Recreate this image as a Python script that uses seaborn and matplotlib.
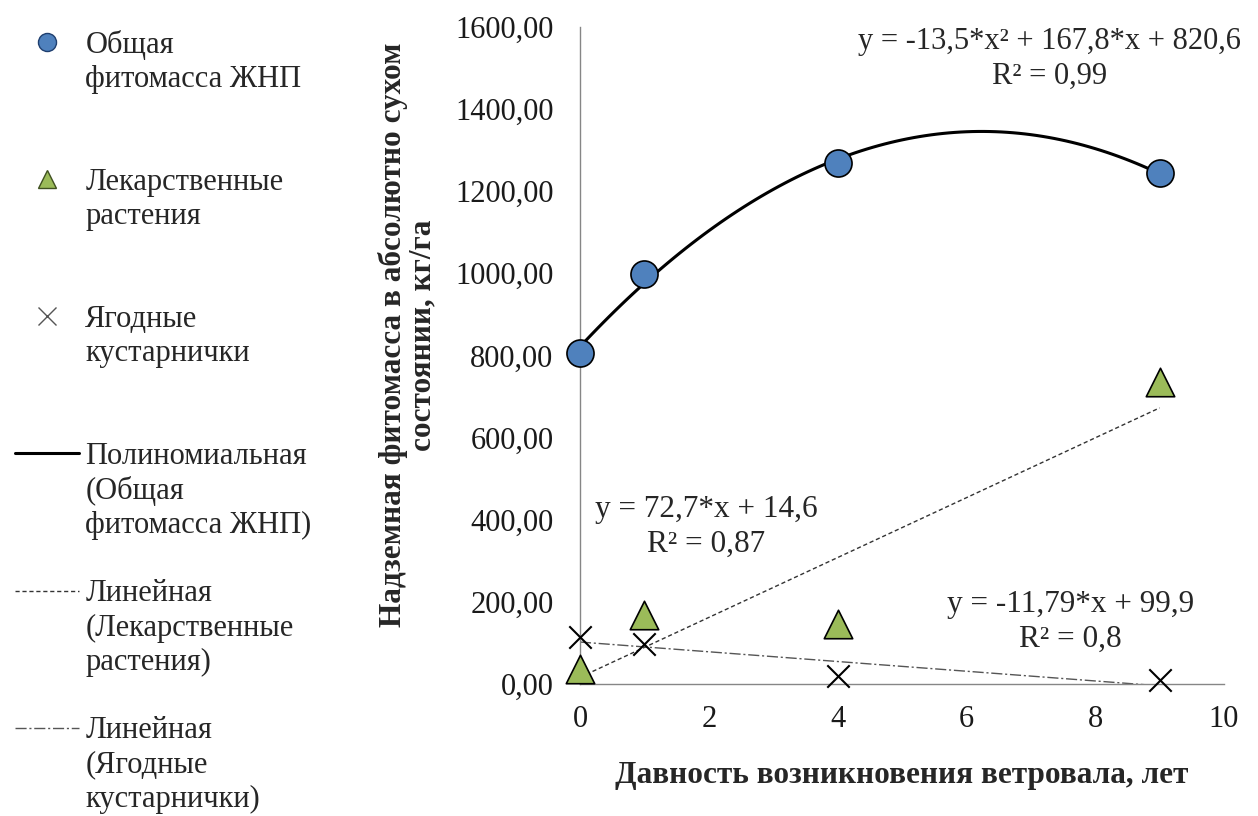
import matplotlib
matplotlib.use("Agg")
from matplotlib import pyplot as plt
from matplotlib.lines import Line2D
import seaborn as sns

# Data
years = [0, 1, 4, 9]
total_phytomass = [806, 998, 1269, 1244]
medicinal_plants = [35, 168, 146, 735]
berry_shrubs = [115, 97, 19, 10]

x_ticks = [0, 2, 4, 6, 8, 10]
y_ticks = [0, 200, 400, 600, 800, 1000, 1200, 1400, 1600]
y_tick_labels = ['0,00', '200,00', '400,00', '600,00', '800,00',
                 '1000,00', '1200,00', '1400,00', '1600,00']

eq_total = 'y = -13,5*x² + 167,8*x + 820,6\nR² = 0,99'
eq_medicinal = 'y = 72,7*x + 14,6\nR² = 0,87'
eq_berry = 'y = -11,79*x + 99,9\nR² = 0,8'

x_label = 'Давность возникновения ветровала, лет'
y_label = 'Надземная фитомасса в абсолютно сухом\nсостоянии, кг/га'

sns.set_theme(style="white")
plt.rcParams['font.family'] = ['Liberation Serif', 'DejaVu Serif']

BLUE = '#4F81BD'
GREEN = '#9BBB59'
FS = 22

fig = plt.figure(figsize=(12.58, 8.16), dpi=100)
ax = fig.add_axes([0.461, 0.162, 0.512, 0.805])

# Trend lines
sns.regplot(x=years, y=total_phytomass, order=2, ci=None, scatter=False,
            truncate=True, ax=ax, color='black', line_kws=dict(lw=2.2, zorder=2))
sns.regplot(x=years, y=medicinal_plants, order=1, ci=None, scatter=False,
            truncate=True, ax=ax, color='#333333',
            line_kws=dict(lw=1.0, linestyle=(0, (3, 2)), zorder=2))
sns.regplot(x=years, y=berry_shrubs, order=1, ci=None, scatter=False,
            truncate=True, ax=ax, color='#555555',
            line_kws=dict(lw=1.0, linestyle=(0, (8, 2, 1.5, 2)), zorder=2))

# Points
sns.scatterplot(x=years, y=total_phytomass, ax=ax, marker='o', s=380,
                color=BLUE, edgecolor='black', linewidth=1.2, zorder=4, clip_on=False)
sns.scatterplot(x=years, y=medicinal_plants, ax=ax, marker='^', s=420,
                color=GREEN, edgecolor='black', linewidth=1.2, zorder=4, clip_on=False)
sns.scatterplot(x=years, y=berry_shrubs, ax=ax, marker='x', s=260,
                color='black', linewidth=1.5, zorder=4, clip_on=False)

ax.set_xlim(0, 10)
ax.set_ylim(0, 1600)
ax.set_xticks(x_ticks)
ax.set_xticklabels([str(t) for t in x_ticks])
ax.set_yticks(y_ticks)
ax.set_yticklabels(y_tick_labels)
ax.tick_params(axis='both', which='major', labelsize=FS, colors='#868686',
               labelcolor='#1a1a1a', direction='out', length=7, width=1)
ax.tick_params(axis='y', pad=12)
ax.tick_params(axis='x', pad=8)

for side in ['top', 'right']:
    ax.spines[side].set_visible(False)
for side in ['left', 'bottom']:
    ax.spines[side].set_color('#868686')
    ax.spines[side].set_linewidth(1.0)

ax.set_xlabel(x_label, fontsize=22.5, fontweight='bold', va='top')
ax.xaxis.set_label_coords(0.5, -0.118)
ax.set_ylabel(y_label, fontsize=22.5, fontweight='bold', linespacing=1.0)
ax.yaxis.set_label_coords(-0.222, 0.531)

# Trend equations
ax.text(7.29, 1522, eq_total, ha='center', va='center', fontsize=FS, linespacing=1.25)
ax.text(1.96, 382, eq_medicinal, ha='center', va='center', fontsize=22.5, linespacing=1.3)
ax.text(7.62, 151, eq_berry, ha='center', va='center', fontsize=22.5, linespacing=1.3)

# Legend (one row per text line so handles sit on the first line)
blank = Line2D([], [], linestyle='none')
h_circle = Line2D([], [], linestyle='none', marker='o', markersize=13,
                  markerfacecolor=BLUE, markeredgecolor='#1f3f6f')
h_tri = Line2D([], [], linestyle='none', marker='^', markersize=13,
               markerfacecolor=GREEN, markeredgecolor='#3f5020')
h_x = Line2D([], [], linestyle='none', marker='x', markersize=13,
             markeredgecolor='#555555', markeredgewidth=1.0)
h_poly = Line2D([], [], color='black', lw=2.2)
h_lin1 = Line2D([], [], color='#333333', lw=1.0, linestyle=(0, (3, 2)))
h_lin2 = Line2D([], [], color='#555555', lw=1.0, linestyle=(0, (8, 2, 1.5, 2)))

rows = [
    (h_circle, 'Общая'), (blank, 'фитомасса ЖНП'), (blank, ' '), (blank, ' '),
    (h_tri, 'Лекарственные'), (blank, 'растения'), (blank, ' '), (blank, ' '),
    (h_x, 'Ягодные'), (blank, 'кустарнички'), (blank, ' '), (blank, ' '),
    (h_poly, 'Полиномиальная'), (blank, '(Общая'), (blank, 'фитомасса ЖНП)'), (blank, ' '),
    (h_lin1, 'Линейная'), (blank, '(Лекарственные'), (blank, 'растения)'), (blank, ' '),
    (h_lin2, 'Линейная'), (blank, '(Ягодные'), (blank, 'кустарнички)'),
]
fig.legend([r[0] for r in rows], [r[1] for r in rows], loc='upper left',
           bbox_to_anchor=(0.012, 0.963), frameon=False, borderpad=0,
           borderaxespad=0, handlelength=2.1, handletextpad=0.2,
           labelspacing=0.17, fontsize=FS)

fig.savefig('out.png', dpi=100)
